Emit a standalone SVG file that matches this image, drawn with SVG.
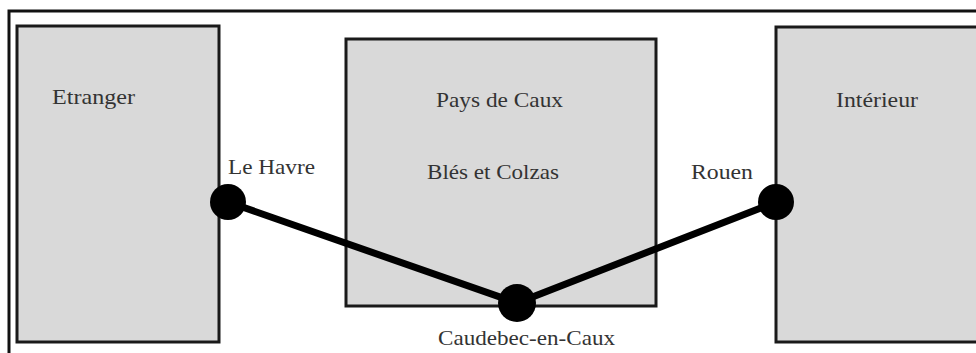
<svg xmlns="http://www.w3.org/2000/svg" width="976" height="353" viewBox="0 0 976 353">
<style>
.box{fill:#d9d9d9;stroke:#1a1a1a;stroke-width:3}
.frame{fill:none;stroke:#111;stroke-width:3}
.t{font-family:"Liberation Serif","DejaVu Serif","Times New Roman",serif;font-size:22px;fill:#333}
.dot{fill:#000}
.link{stroke:#000;stroke-width:7;fill:none;stroke-linecap:round}
</style>
<rect width="976" height="353" fill="#fff"/>
<path class="frame" d="M9 353 V11 H976"/>
<g id="etranger">
<rect class="box" x="17" y="26" width="202" height="316"/>
<text class="t" x="52" y="104" textLength="83" lengthAdjust="spacingAndGlyphs">Etranger</text>
</g>
<g id="pays-de-caux">
<rect class="box" x="346" y="39" width="310" height="267"/>
<text class="t" x="436" y="107" textLength="127" lengthAdjust="spacingAndGlyphs">Pays de Caux</text>
<text class="t" x="427" y="179" textLength="132" lengthAdjust="spacingAndGlyphs">Blés et Colzas</text>
</g>
<g id="interieur">
<rect class="box" x="776" y="27" width="210" height="315"/>
<text class="t" x="836" y="107" textLength="82" lengthAdjust="spacingAndGlyphs">Intérieur</text>
</g>
<g id="connectors">
<polyline class="link" points="228,202 517,303 776,202"/>
</g>
<g id="le-havre">
<circle class="dot" cx="228" cy="202" r="18"/>
<text class="t" x="228" y="174" textLength="87" lengthAdjust="spacingAndGlyphs">Le Havre</text>
</g>
<g id="caudebec">
<circle class="dot" cx="517" cy="303" r="19"/>
<text class="t" x="438" y="345" textLength="177" lengthAdjust="spacingAndGlyphs">Caudebec-en-Caux</text>
</g>
<g id="rouen">
<circle class="dot" cx="776" cy="202" r="18"/>
<text class="t" x="691" y="179" textLength="62" lengthAdjust="spacingAndGlyphs">Rouen</text>
</g>
</svg>
